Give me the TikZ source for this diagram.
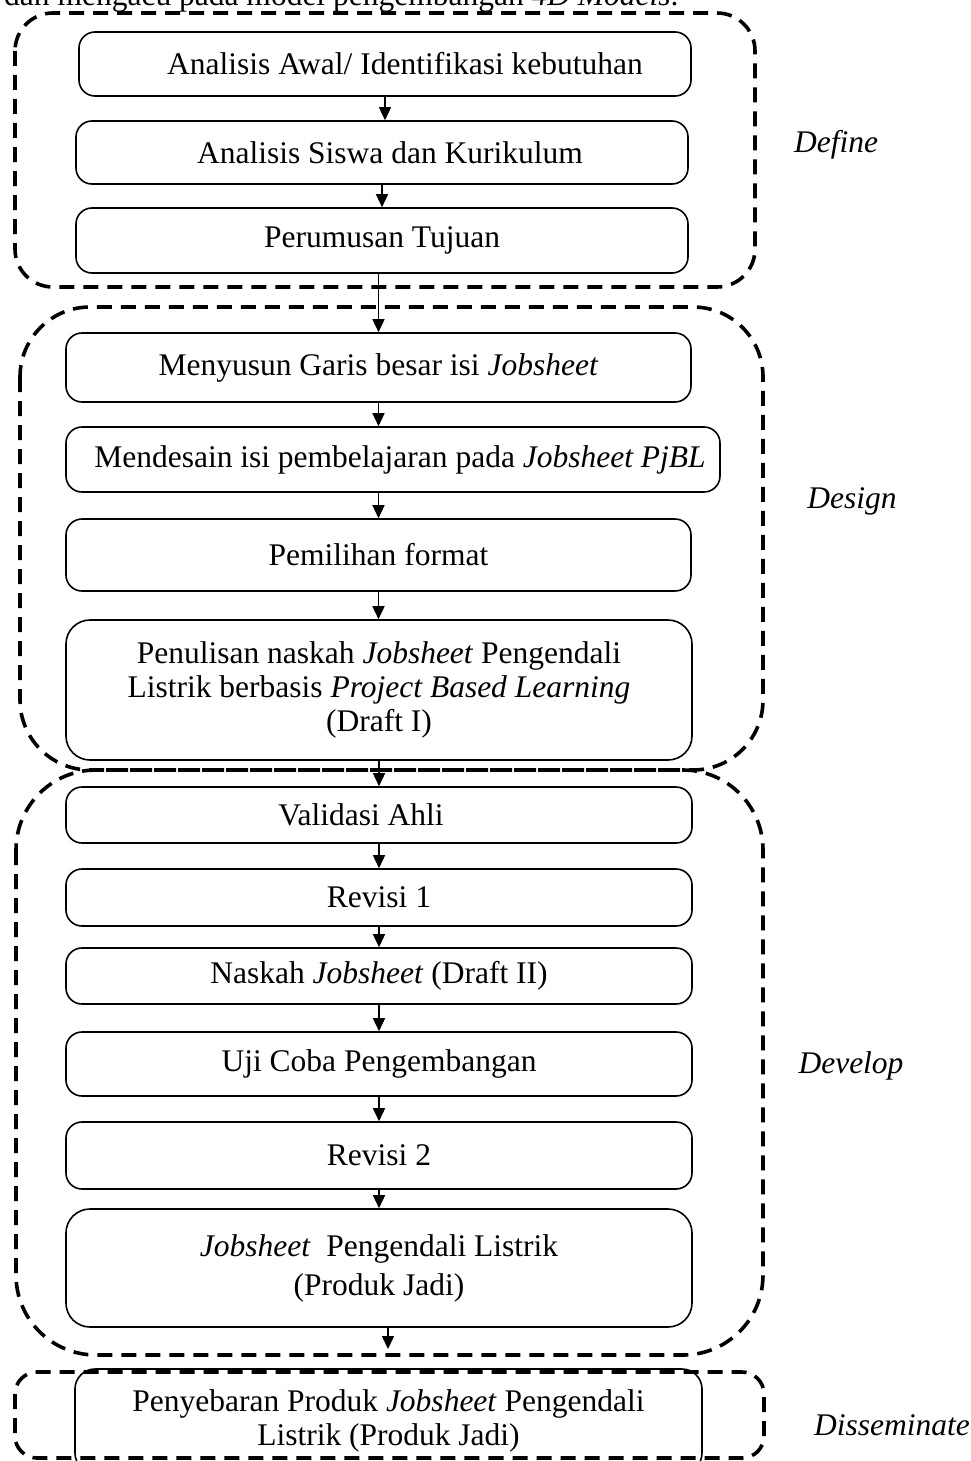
\documentclass[tikz,border=0pt]{standalone}
\usepackage{fontspec}
\setmainfont{Liberation Serif}
\usetikzlibrary{arrows.meta}
\begin{document}
\begin{tikzpicture}[x=1pt,y=-1pt,
  every node/.style={font=\fontsize{31.5}{34}\selectfont},
  box/.style={draw, line width=1.6pt, rounded corners=16pt, inner sep=0pt, align=center},
  region/.style={draw, line width=3.6pt, dash pattern=on 15pt off 9pt},
  arr/.style={line width=1.5pt, -{Triangle[length=13pt,width=12pt]}},
  phase/.style={font=\fontsize{31.5}{34}\selectfont\itshape}]
\clip (0,0) rectangle (971,1461);
\fill[white] (0,0) rectangle (971,1461);
% cut-off text at the top
\node[anchor=base west, inner sep=0pt] (toptext) at (4,6) {dan mengacu pada model pengembangan \textit{4D Models}.};
% regions
\draw[region, rounded corners=38pt] (15,13) rectangle (755,287);
\draw[region, rounded corners=70pt] (20,307) rectangle (763,770);
\draw[region, rounded corners=80pt] (16,770) rectangle (763,1355);
\draw[region, rounded corners=22pt] (15,1372) rectangle (764,1458);
% boxes
\node[box, minimum width=612pt, minimum height=64pt] (b1) at (385,64) {\raisebox{-5pt}{\hspace*{40pt}Analisis Awal/ Identifikasi kebutuhan}};
\node[box, minimum width=612pt, minimum height=63pt] (b2) at (382,152.5) {\hspace*{16pt}Analisis Siswa dan Kurikulum};
\node[box, minimum width=612pt, minimum height=65pt] (b3) at (382,240.5) {\raisebox{-2pt}{Perumusan Tujuan}};
\node[box, minimum width=625pt, minimum height=69pt] (b4) at (378.5,367.5) {Menyusun Garis besar isi \textit{Jobsheet}};
\node[box, minimum width=654pt, minimum height=65pt] (b5) at (393,459.5) {\hspace*{14pt}Mendesain isi pembelajaran pada \textit{Jobsheet PjBL}};
\node[box, minimum width=625pt, minimum height=72pt] (b6) at (378.5,555) {Pemilihan format};
\node[box, minimum width=626pt, minimum height=140pt, rounded corners=24pt] (b7) at (379,690) {Penulisan naskah \textit{Jobsheet} Pengendali\\Listrik berbasis \textit{Project Based Learning}\\(Draft I)};
\node[box, minimum width=626pt, minimum height=56pt] (b8) at (379,815) {\raisebox{-4pt}{\hspace*{-36pt}Validasi Ahli}};
\node[box, minimum width=626pt, minimum height=57pt] (b9) at (379,897.5) {\raisebox{-6pt}{Revisi 1}};
\node[box, minimum width=626pt, minimum height=56pt] (b10) at (379,976) {Naskah \textit{Jobsheet} (Draft II)};
\node[box, minimum width=626pt, minimum height=64pt] (b11) at (379,1064) {Uji Coba Pengembangan};
\node[box, minimum width=626pt, minimum height=67pt] (b12) at (379,1155.5) {\raisebox{-4pt}{Revisi 2}};
\node[box, minimum width=626pt, minimum height=118pt, rounded corners=24pt] (b13) at (379,1268) {\raisebox{6pt}{\textit{Jobsheet}\ \ Pengendali Listrik}\\[5pt]\raisebox{6pt}{(Produk Jadi)}};
\node[box, minimum width=627pt, minimum height=104pt, rounded corners=20pt] (b14) at (388.5,1421) {Penyebaran Produk \textit{Jobsheet} Pengendali\\Listrik (Produk Jadi)};
% phase labels
\node[phase] (lDefine) at (836,145) {Define};
\node[phase] (lDesign) at (852,501) {Design};
\node[phase] (lDevelop) at (851,1066) {Develop};
\node[phase] (lDissem) at (892,1425) {Disseminate};
% arrows
\draw[arr] (b1.south) -- (b1.south |- b2.north);
\draw[arr] (b2.south) -- (b2.south |- b3.north);
\draw[arr] (b4.north |- b3.south) -- (b4.north);
\draw[arr] (b4.south) -- (b4.south |- b5.north);
\draw[arr] (b4.south |- b5.south) -- (b6.north);
\draw[arr] (b6.south) -- (b6.south |- b7.north);
\draw[arr] (b7.south) -- (b8.north);
\draw[arr] (b8.south) -- (b9.north);
\draw[arr] (b9.south) -- (b10.north);
\draw[arr] (b10.south) -- (b11.north);
\draw[arr] (b11.south) -- (b12.north);
\draw[arr] (b12.south) -- (b13.north);
\coordinate (tip) at (388,1349);
\draw[arr] (b13.south -| tip) -- (tip);
\end{tikzpicture}
\end{document}
